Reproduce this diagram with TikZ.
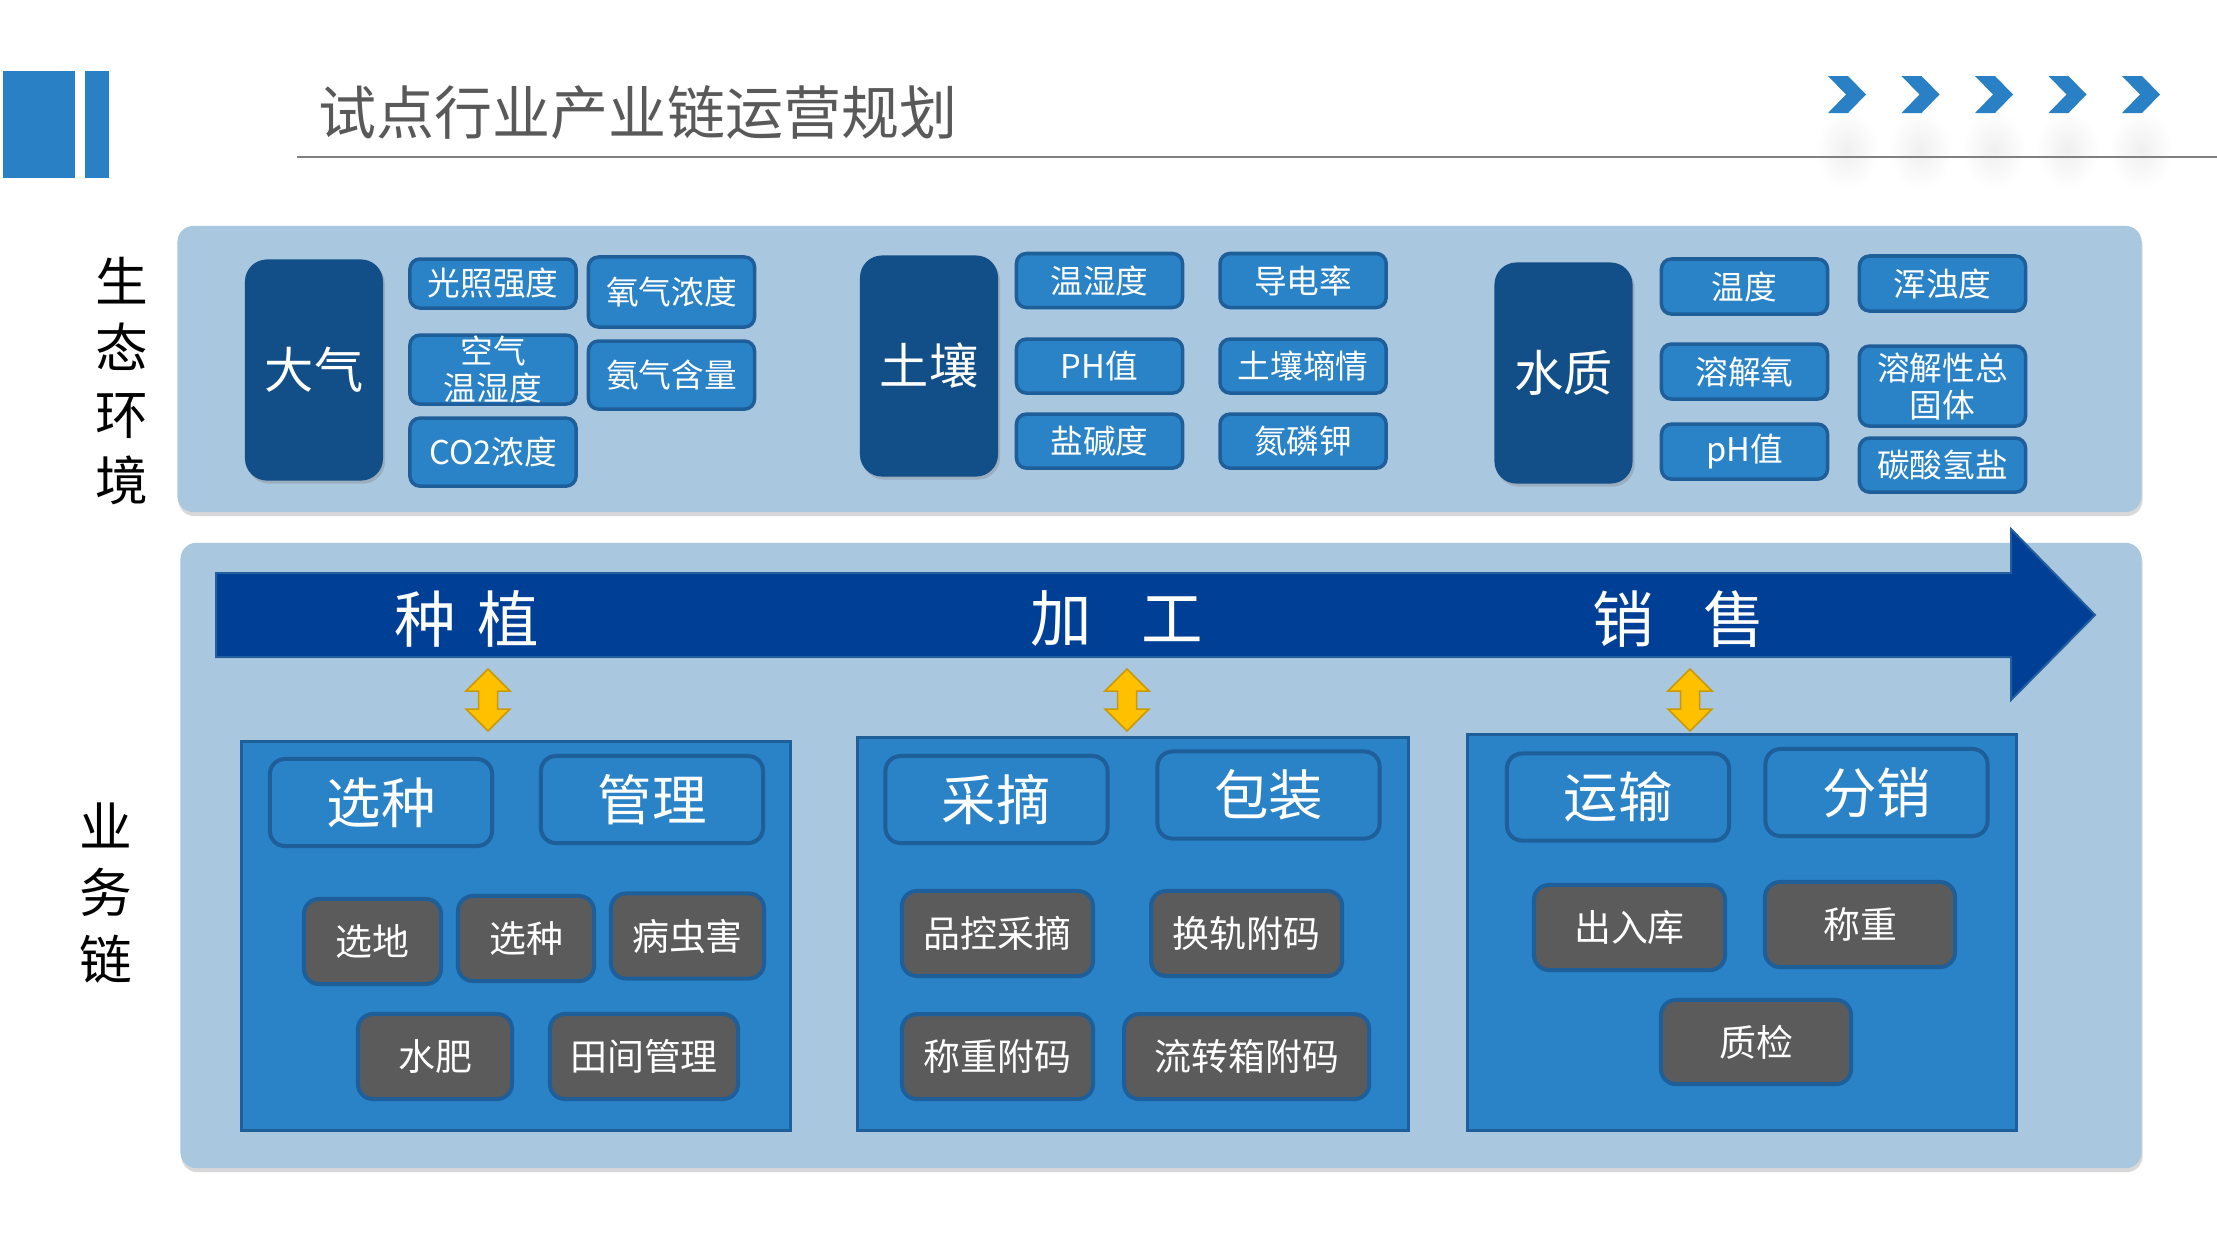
\documentclass[tikz,border=0pt]{standalone}
\usepackage{fontspec}
\setmainfont{Noto Sans CJK SC}
\usetikzlibrary{positioning,shadows}

\definecolor{barblue}{HTML}{2A80C4}
\definecolor{panelblue}{HTML}{AAC7E0}
\definecolor{catblue}{HTML}{124E87}
\definecolor{itemblue}{HTML}{2A82C7}
\definecolor{edgeblue}{HTML}{1E5E99}
\definecolor{flowblue}{HTML}{003F96}
\definecolor{flowedge}{HTML}{235E9E}
\definecolor{taskgray}{HTML}{5B5B5B}
\definecolor{titlegray}{HTML}{595959}
\definecolor{linkgold}{HTML}{FFC000}
\definecolor{linkedge}{HTML}{C99A06}

\newcommand{\fsz}[2]{\fontsize{#1}{#2}\selectfont}

\begin{document}
\begin{tikzpicture}[x=0.01cm,y=-0.01cm,node distance=1cm,on grid,
    panel/.style={fill=panelblue,rounded corners=0.16cm,
      drop shadow={shadow xshift=0.01cm,shadow yshift=-0.04cm,opacity=0.3}},
    cat/.style={fill=catblue,rounded corners=0.22cm,text=white,
      minimum width=1.38cm,minimum height=2.21cm,font=\fsz{14pt}{16pt},
      drop shadow={shadow xshift=0.02cm,shadow yshift=-0.03cm,opacity=0.35}},
    item/.style={fill=itemblue,draw=edgeblue,line width=0.035cm,
      rounded corners=0.1cm,text=white,minimum width=1.66cm,
      minimum height=0.54cm,inner sep=0pt,align=center,
      font=\fsz{9.3pt}{10.5pt}},
    stage/.style={fill=itemblue,draw=edgeblue,line width=0.03cm},
    head/.style={fill=itemblue,draw=edgeblue,line width=0.04cm,
      rounded corners=0.15cm,text=white,minimum width=2.22cm,
      minimum height=0.87cm,font=\fsz{15.5pt}{18pt}},
    task/.style={fill=taskgray,draw=edgeblue,line width=0.04cm,
      rounded corners=0.15cm,text=white,minimum width=1.91cm,
      minimum height=0.85cm,font=\fsz{10.5pt}{12pt}},
    side/.style={align=center,font=\fsz{15pt}{18.9pt}},
    flowtext/.style={text=white,font=\fsz{17.5pt}{20pt}},
    ylink/.style={fill=linkgold,draw=linkedge,line width=0.015cm}]

  \useasboundingbox (0,0) rectangle (2217,1247);
  \fill[white] (0,0) rectangle (2217,1247);

  % header
  \fill[barblue] (3,71) rectangle (75,178);
  \fill[barblue] (85,71) rectangle (109,178);
  \node[text=titlegray,font=\fsz{16.5pt}{18pt}] (title) at (638,113) {试点行业产业链运营规划};
  \foreach \i in {0,...,4}
    \shade[inner color=black!6,outer color=white] ({1847+73.5*\i},150) ellipse (0.32cm and 0.4cm);
  \draw[line width=0.025cm,color=black!50] (297,157) -- (2217,157);
  \foreach \i in {0,...,4}
    \fill[barblue] ({1828+73.5*\i},76) -- ++(20,0) -- ++(18,18.5) -- ++(-18,18.5)
      -- ++(-20,0) -- ++(18,-18.5) -- cycle;

  % panels
  \node[panel,minimum width=19.63cm,minimum height=2.86cm] (eco) at (1159.5,369) {};
  \node[panel,minimum width=19.60cm,minimum height=6.25cm] (chain) at (1161,855.5) {};
  \node[side] (shengtai) at (122,381) {生\\态\\环\\境};
  \node[side] (yewu) at (106,893) {业\\务\\链};

  % 大气
  \node[cat] (daqi) at (314,370) {大气};
  \node[item,minimum height=0.49cm] (guang) at (493,283.5) {光照强度};
  \node[item,minimum height=0.69cm] (kongqi) [below=0.86cm of guang] {空气\\温湿度};
  \node[item,minimum height=0.68cm] (co2) [below=0.825cm of kongqi] {CO2浓度};
  \node[item,minimum height=0.70cm] (yangqi) at (671.5,292) {氧气浓度};
  \node[item,minimum height=0.68cm] (anqi) [below=0.83cm of yangqi] {氨气含量};

  % 土壤
  \node[cat] (turang) at (929,366) {土壤};
  \node[item] (tr1) at (1099.5,280.5) {温湿度};
  \node[item] (tr2) [right=2.035cm of tr1] {导电率};
  \node[item] (tr3) [below=0.855cm of tr1] {PH值};
  \node[item] (tr4) [right=2.035cm of tr3] {土壤墒情};
  \node[item] (tr5) [below=0.75cm of tr3] {盐碱度};
  \node[item] (tr6) [right=2.035cm of tr5] {氮磷钾};

  % 水质
  \node[cat] (shuizhi) at (1563.5,373) {水质};
  \node[item,minimum height=0.55cm] (sz1) at (1744.5,286.5) {温度};
  \node[item,minimum height=0.55cm] (sz3) [below=0.85cm of sz1] {溶解氧};
  \node[item,minimum height=0.55cm] (sz5) [below=0.80cm of sz3] {pH值};
  \node[item,minimum height=0.55cm] (sz2) at (1942.5,283.5) {浑浊度};
  \node[item,minimum height=0.80cm] (sz4) [below=1.025cm of sz2] {溶解性总\\固体};
  \node[item] (sz6) [below=0.79cm of sz4] {碳酸氢盐};

  % flow arrow
  \draw[fill=flowblue,draw=flowedge,line width=0.02cm] (216,573) -- (2011,573) -- (2011,529)
    -- (2095,615) -- (2011,700) -- (2011,657) -- (216,657) -- cycle;
  \node[flowtext] (zhongzhi) at (467,619) {种\hspace{0.35em}植};
  \node[flowtext] (jiagong) at (1117,619) {加\hspace{0.8em}工};
  \node[flowtext] (xiaoshou) at (1679,619) {销\hspace{0.8em}售};
  \foreach \x in {488,1127,1690}
    \draw[ylink] (\x,669) -- (\x+22,691) -- (\x+9.5,691) -- (\x+9.5,709) -- (\x+22,709)
      -- (\x,731) -- (\x-22,709) -- (\x-9.5,709) -- (\x-9.5,691) -- (\x-22,691) -- cycle;

  % stages
  \node[stage,minimum width=5.48cm,minimum height=3.88cm] (plant) at (516,936) {};
  \node[stage,minimum width=5.50cm,minimum height=3.92cm] (proc) at (1133,934) {};
  \node[stage,minimum width=5.48cm,minimum height=3.95cm] (sale) at (1742,932.5) {};

  \node[head] (xuanzhong) at (381,802.5) {选种};
  \node[head] (guanli) at (652,799.5) {管理};
  \node[head] (caizhai) at (996.5,799.5) {采摘};
  \node[head] (baozhuang) at (1268.5,795) {包装};
  \node[head] (yunshu) at (1618,797) {运输};
  \node[head] (fenxiao) at (1876.5,792.5) {分销};

  \node[task,minimum width=1.37cm] (xuandi) at (372.5,941.5) {选地};
  \node[task,minimum width=1.36cm] (xuanzh) at (526,938.5) {选种};
  \node[task,minimum width=1.53cm] (bingchong) at (687.5,936) {病虫害};
  \node[task,minimum width=1.54cm] (shuifei) at (435,1056.5) {水肥};
  \node[task,minimum width=1.88cm] (tianjian) at (644,1056.5) {田间管理};
  \node[task] (pinkong) at (997.5,933.5) {品控采摘};
  \node[task] (huangui) [right=2.49cm of pinkong] {换轨附码};
  \node[task] (chengfu) [below=1.23cm of pinkong] {称重附码};
  \node[task,minimum width=2.45cm] (liuzhuan) [right=2.49cm of chengfu] {流转箱附码};
  \node[task] (churuku) at (1629.5,927.5) {出入库};
  \node[task,minimum width=1.90cm] (chengzhong) at (1860,924.5) {称重};
  \node[task,minimum width=1.90cm,minimum height=0.84cm] (zhijian) at (1756,1042) {质检};
\end{tikzpicture}
\end{document}
